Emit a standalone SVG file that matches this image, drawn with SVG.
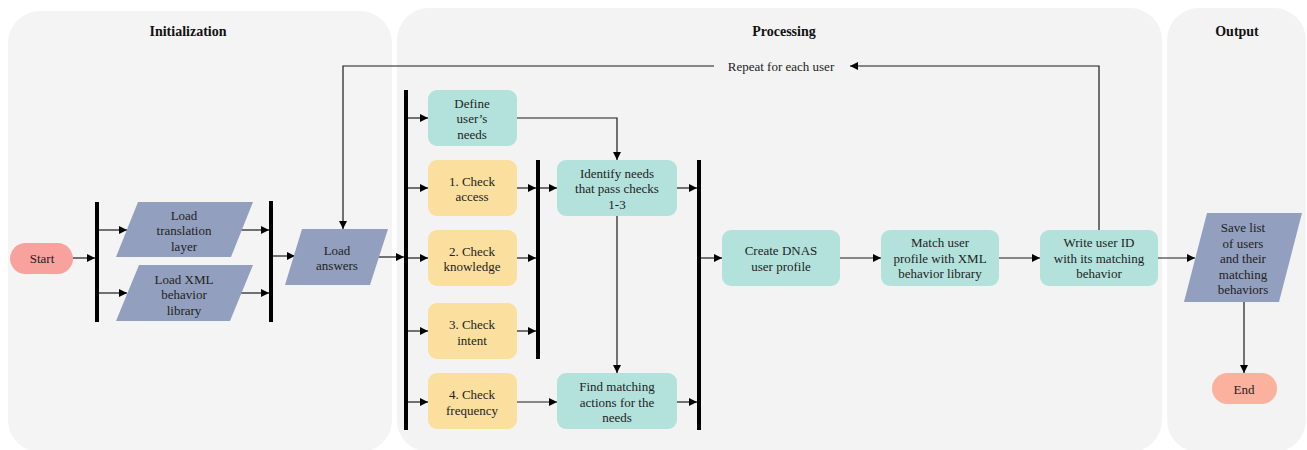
<svg xmlns="http://www.w3.org/2000/svg" width="1307" height="450" viewBox="0 0 1307 450">
  <style>
    .lane { fill: #f4f4f4; }
    .lane-title { font-family: 'Liberation Serif', serif; font-size: 14px; font-weight: bold; fill: #111; text-anchor: middle; }
    .label { font-family: 'Liberation Serif', serif; font-size: 13px; fill: #222; text-anchor: middle; dominant-baseline: central; }
    .terminal-start { fill: #f9a19d; }
    .terminal-end { fill: #fbb19e; }
    .io { fill: #939fbe; }
    .step { fill: #b3e2dd; }
    .check { fill: #fbdf9e; }
    .bar { fill: #000; }
    .flow-arrow { fill: none; stroke: #1a1a1a; stroke-width: 1.2; marker-end: url(#head); }
  </style>
  <defs>
    <marker id="head" viewBox="0 0 10 10" refX="10" refY="5" markerWidth="9" markerHeight="8" markerUnits="userSpaceOnUse" orient="auto">
      <path d="M0,0 L10,5 L0,10 z" fill="#000"/>
    </marker>
  </defs>

  <!-- Swimlane panels -->
  <g id="lanes">
    <rect class="lane" x="8" y="11" width="384" height="441" rx="32"/>
    <rect class="lane" x="397" y="8" width="765" height="444" rx="32" style="fill:#f3f3f3"/>
    <rect class="lane" x="1167" y="8" width="139" height="444" rx="32" style="fill:#f3f3f3"/>
    <text class="lane-title" x="188" y="36">Initialization</text>
    <text class="lane-title" x="784" y="36">Processing</text>
    <text class="lane-title" x="1237" y="36">Output</text>
  </g>

  <!-- Connectors -->
  <g id="connectors">
    <path class="flow-arrow" d="M73,258 H95"/>
    <path class="flow-arrow" d="M98,230 H127"/>
    <path class="flow-arrow" d="M98,293 H127"/>
    <path class="flow-arrow" d="M241,230 H269"/>
    <path class="flow-arrow" d="M240,293 H269"/>
    <path class="flow-arrow" d="M273,256 H295"/>
    <path class="flow-arrow" d="M378,257 H404"/>
    <path class="flow-arrow" d="M1099,230 V66 H850"/>
    <path class="flow-arrow" d="M714,66 H343 V229"/>
    <path class="flow-arrow" d="M407,118 H428"/>
    <path class="flow-arrow" d="M517,118 H617 V160"/>
    <path class="flow-arrow" d="M407,188 H428"/>
    <path class="flow-arrow" d="M517,188 H536"/>
    <path class="flow-arrow" d="M407,258 H428"/>
    <path class="flow-arrow" d="M517,258 H536"/>
    <path class="flow-arrow" d="M407,331 H428"/>
    <path class="flow-arrow" d="M517,331 H536"/>
    <path class="flow-arrow" d="M407,402 H428"/>
    <path class="flow-arrow" d="M517,402 H557"/>
    <path class="flow-arrow" d="M539,188 H557"/>
    <path class="flow-arrow" d="M677,188 H697"/>
    <path class="flow-arrow" d="M677,402 H697"/>
    <path class="flow-arrow" d="M617,216 V373"/>
    <path class="flow-arrow" d="M700,258 H722"/>
    <path class="flow-arrow" d="M840,258 H881"/>
    <path class="flow-arrow" d="M999,258 H1040"/>
    <path class="flow-arrow" d="M1158,258 H1195"/>
    <path class="flow-arrow" d="M1244,302 V373"/>
    <text class="label" x="781" y="66">Repeat for each user</text>
  </g>

  <!-- Fork / join bars -->
  <g id="bar-init-fork"><rect class="bar" x="95" y="202" width="4" height="120"/></g>
  <g id="bar-init-join"><rect class="bar" x="269" y="201" width="4" height="121"/></g>
  <g id="bar-proc-fork"><rect class="bar" x="404" y="90" width="4" height="340"/></g>
  <g id="bar-checks-join"><rect class="bar" x="536" y="160" width="4" height="199"/></g>
  <g id="bar-proc-join"><rect class="bar" x="697" y="160" width="4" height="270"/></g>

  <!-- Initialization nodes -->
  <g id="start">
    <rect class="terminal-start" x="10" y="243" width="63" height="31" rx="15.5"/>
    <text class="label" x="42" y="258.5">Start</text>
  </g>
  <g id="load-translation">
    <polygon class="io" points="138,202 253,202 231,257 116,257"/>
    <text class="label" x="184" y="215">Load</text>
    <text class="label" x="184" y="230.5">translation</text>
    <text class="label" x="184" y="246">layer</text>
  </g>
  <g id="load-xml">
    <polygon class="io" points="139,265 253,265 230,321 116,321"/>
    <text class="label" x="184" y="279">Load XML</text>
    <text class="label" x="184" y="294.5">behavior</text>
    <text class="label" x="184" y="310">library</text>
  </g>
  <g id="load-answers">
    <polygon class="io" points="302,229 388,229 370,285 285,285"/>
    <text class="label" x="337" y="250">Load</text>
    <text class="label" x="337" y="265.5">answers</text>
  </g>

  <!-- Processing nodes -->
  <g id="define-needs">
    <rect class="step" x="428" y="90" width="89" height="56" rx="9"/>
    <text class="label" x="472" y="103">Define</text>
    <text class="label" x="472" y="118.5">user’s</text>
    <text class="label" x="472" y="134">needs</text>
  </g>
  <g id="check-access">
    <rect class="check" x="428" y="160" width="89" height="56" rx="9"/>
    <text class="label" x="472" y="181">1. Check</text>
    <text class="label" x="472" y="196.5">access</text>
  </g>
  <g id="check-knowledge">
    <rect class="check" x="428" y="230" width="89" height="56" rx="9"/>
    <text class="label" x="472" y="251">2. Check</text>
    <text class="label" x="472" y="266.5">knowledge</text>
  </g>
  <g id="check-intent">
    <rect class="check" x="428" y="303" width="89" height="56" rx="9"/>
    <text class="label" x="472" y="324.5">3. Check</text>
    <text class="label" x="472" y="340">intent</text>
  </g>
  <g id="check-frequency">
    <rect class="check" x="428" y="373" width="89" height="56" rx="9"/>
    <text class="label" x="472" y="394.5">4. Check</text>
    <text class="label" x="472" y="410">frequency</text>
  </g>
  <g id="identify-needs">
    <rect class="step" x="557" y="160" width="120" height="56" rx="9"/>
    <text class="label" x="617" y="173">Identify needs</text>
    <text class="label" x="617" y="188.5">that pass checks</text>
    <text class="label" x="617" y="204">1-3</text>
  </g>
  <g id="find-actions">
    <rect class="step" x="557" y="373" width="120" height="56" rx="9"/>
    <text class="label" x="617" y="386.5">Find matching</text>
    <text class="label" x="617" y="402">actions for the</text>
    <text class="label" x="617" y="417.5">needs</text>
  </g>
  <g id="create-profile">
    <rect class="step" x="722" y="230" width="118" height="56" rx="9"/>
    <text class="label" x="781" y="250.5">Create DNAS</text>
    <text class="label" x="781" y="266">user profile</text>
  </g>
  <g id="match-profile">
    <rect class="step" x="881" y="230" width="118" height="56" rx="9"/>
    <text class="label" x="940" y="242.5">Match user</text>
    <text class="label" x="940" y="258">profile with XML</text>
    <text class="label" x="940" y="273.5">behavior library</text>
  </g>
  <g id="write-user-id">
    <rect class="step" x="1040" y="230" width="118" height="56" rx="9"/>
    <text class="label" x="1099" y="242.5">Write user ID</text>
    <text class="label" x="1099" y="258">with its matching</text>
    <text class="label" x="1099" y="273.5">behavior</text>
  </g>

  <!-- Output nodes -->
  <g id="save-list">
    <polygon class="io" points="1207,213 1302,213 1279,302 1184,302"/>
    <text class="label" x="1243" y="227.5">Save list</text>
    <text class="label" x="1243" y="243">of users</text>
    <text class="label" x="1243" y="258.5">and their</text>
    <text class="label" x="1243" y="274">matching</text>
    <text class="label" x="1243" y="289.5">behaviors</text>
  </g>
  <g id="end">
    <rect class="terminal-end" x="1212" y="373" width="65" height="31" rx="15.5"/>
    <text class="label" x="1244" y="389">End</text>
  </g>
</svg>
